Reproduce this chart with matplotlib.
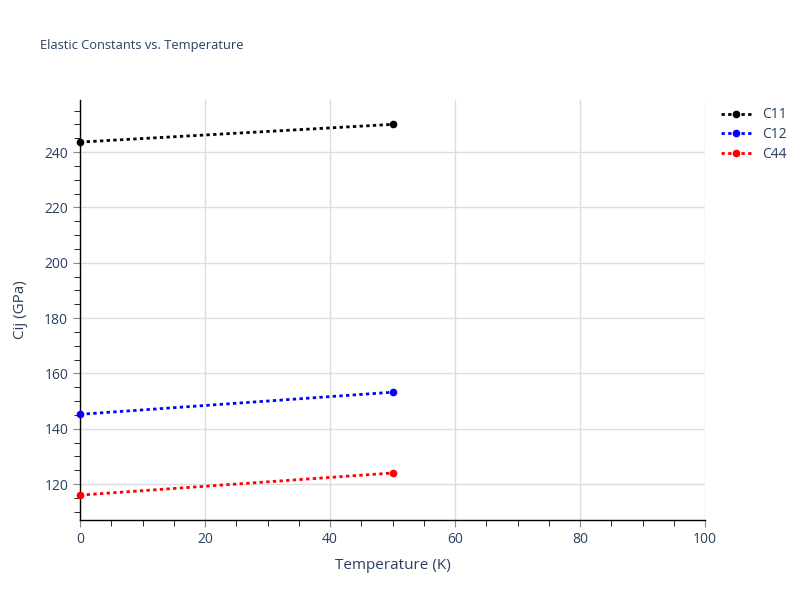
import matplotlib

matplotlib.use("Agg")

import matplotlib.pyplot as plt
from matplotlib.ticker import MultipleLocator

plt.rcParams["font.family"] = ["Open Sans", "DejaVu Sans"]

TEXT = "#2a3f5f"

temperature = [0, 50]
c11 = [243.6, 250.0]
c12 = [145.2, 153.2]
c44 = [116.0, 124.0]

series = [("C11", c11, "black"), ("C12", c12, "blue"), ("C44", c44, "red")]

fig = plt.figure(figsize=(8, 6), dpi=100)
ax = fig.add_axes([0.1, 0.1333, 0.78125, 0.7])

for name, vals, col in series:
    ax.plot(temperature, vals, color=col, linestyle=(0, (1.2, 1.2)), linewidth=2,
            marker="o", markersize=4.5, label=name, clip_on=False, zorder=3)

ax.set_xlim(0, 100)
ax.set_ylim(107, 258.8)

ax.xaxis.set_major_locator(MultipleLocator(20))
ax.xaxis.set_minor_locator(MultipleLocator(5))
ax.yaxis.set_major_locator(MultipleLocator(20))
ax.yaxis.set_minor_locator(MultipleLocator(5))

ax.grid(True, which="major", color="#dddddd", linewidth=1)
ax.set_axisbelow(True)

for s in ["top", "right"]:
    ax.spines[s].set_visible(False)
for s in ["left", "bottom"]:
    ax.spines[s].set_color("black")
    ax.spines[s].set_linewidth(1)

ax.tick_params(which="major", length=5, color="#888888", labelcolor=TEXT, labelsize=10)
ax.tick_params(which="minor", length=4, color="black")

ax.set_xlabel("Temperature (K)", color=TEXT, fontsize=11, labelpad=8)
ax.set_ylabel("Cij (GPa)", color=TEXT, fontsize=11, labelpad=12)

fig.text(0.05, 0.925, "Elastic Constants vs. Temperature", color=TEXT, fontsize=9.3,
         va="center")

leg = ax.legend(loc="upper left", bbox_to_anchor=(1.005, 1.012), frameon=False,
                fontsize=10, handlelength=2.2, labelspacing=0.35)
for t in leg.get_texts():
    t.set_color(TEXT)

fig.savefig("out.png", dpi=100)
